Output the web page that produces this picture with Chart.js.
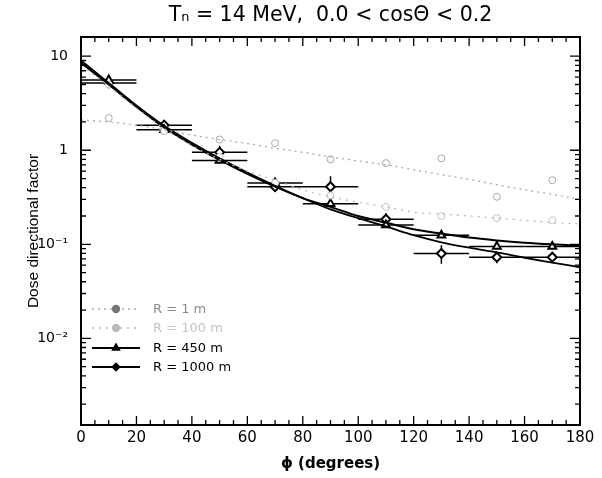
<!DOCTYPE html>
<html>
<head>
<meta charset="utf-8">
<script src="https://cdn.jsdelivr.net/npm/chart.js@4.4.1/dist/chart.umd.min.js"></script>
<style>
  html, body { margin: 0; padding: 0; background: #fff; }
  #wrap { width: 602px; height: 478px; }
</style>
</head>
<body>
<div id="wrap"><canvas id="doseChart"></canvas></div>
<script>
// angles for the fitted curves (degrees)
const phiFit = [0, 10, 20, 30, 40, 50, 60, 70, 80, 90, 100, 110, 120, 130, 140, 150, 160, 170, 180];
const fit450 = [8.5, 5.0, 2.9, 1.75, 1.15, 0.79, 0.56, 0.41, 0.31, 0.25, 0.2, 0.17, 0.145, 0.13, 0.118, 0.11, 0.104, 0.1, 0.097];
const fit1000 = [9.0, 5.2, 3.0, 1.82, 1.2, 0.82, 0.58, 0.42, 0.31, 0.235, 0.19, 0.155, 0.125, 0.105, 0.092, 0.082, 0.072, 0.064, 0.057];
const fitR1 = [2.1, 2.0, 1.85, 1.65, 1.45, 1.3, 1.18, 1.05, 0.95, 0.85, 0.77, 0.7, 0.62, 0.55, 0.49, 0.43, 0.38, 0.34, 0.3];
const fitR100 = [8.0, 4.8, 2.8, 1.7, 1.12, 0.8, 0.6, 0.48, 0.38, 0.32, 0.28, 0.25, 0.22, 0.21, 0.2, 0.19, 0.18, 0.17, 0.165];

// measured points (bin centres, bins are 20 degrees wide)
const phiBins = [10, 30, 50, 70, 90, 110, 130, 150, 170];
const binHalf = 10;
const pts450 = [5.6, 1.65, 0.78, 0.45, 0.27, 0.16, 0.125, 0.095, 0.095];
const err450 = [0.4, 0.1, 0.05, 0.03, 0.02, 0.01, 0.008, 0.006, 0.006];
const pts1000 = [5.2, 1.85, 0.95, 0.41, 0.41, 0.185, 0.08, 0.073, 0.073];
const err1000 = [0.4, 0.15, 0.17, 0.05, 0.12, 0.03, 0.018, 0.01, 0.01];
const ptsR1 = [2.2, 1.6, 1.3, 1.19, 0.8, 0.73, 0.82, 0.32, 0.48];
const ptsR100 = [5.0, 1.7, 0.85, 0.45, 0.33, 0.25, 0.2, 0.19, 0.18];

// axis ticks
const xTicks = [0, 5, 10, 15, 20, 25, 30, 35, 40, 45, 50, 55, 60, 65, 70, 75, 80, 85, 90, 95, 100, 105, 110, 115, 120, 125, 130, 135, 140, 145, 150, 155, 160, 165, 170, 175, 180];
const xMajor = [0, 20, 40, 60, 80, 100, 120, 140, 160, 180];
const yTicks = [0.002, 0.003, 0.004, 0.005, 0.006, 0.007, 0.008, 0.009, 0.01, 0.02, 0.03, 0.04, 0.05, 0.06, 0.07, 0.08, 0.09, 0.1, 0.2, 0.3, 0.4, 0.5, 0.6, 0.7, 0.8, 0.9, 1, 2, 3, 4, 5, 6, 7, 8, 9, 10];
const yMajor = [0.01, 0.1, 1, 10];
const yLabels = ["10\u207B\u00B2", "10\u207B\u00B9", "1", "10"];

const legendLabels = ["R = 1 m", "R = 100 m", "R = 450 m", "R = 1000 m"];

const wideFont = "'DejaVu Sans', Verdana, sans-serif";
const narrowFont = "'Liberation Sans', Arial, sans-serif";

function pairs(xs, ys) {
  return xs.map((v, i) => ({ x: v, y: ys[i] }));
}

// error bars drawn through the chart scales
const errorBars = {
  id: "errorBars",
  beforeDatasetsDraw(chart) {
    const { ctx, scales: { x, y } } = chart;
    ctx.save();
    chart.data.datasets.forEach((ds) => {
      if (!ds.errY) return;
      ctx.strokeStyle = ds.borderColor;
      ctx.lineWidth = ds.errWidth || 1.5;
      ds.data.forEach((p, j) => {
        const px = x.getPixelForValue(p.x);
        const py = y.getPixelForValue(p.y);
        const xl = x.getPixelForValue(p.x - binHalf);
        const xr = x.getPixelForValue(p.x + binHalf);
        const yt = y.getPixelForValue(p.y + ds.errY[j]);
        const yb = y.getPixelForValue(p.y - ds.errY[j]);
        ctx.beginPath();
        ctx.moveTo(xl, py); ctx.lineTo(xr, py);
        ctx.moveTo(px, yt); ctx.lineTo(px, yb);
        ctx.stroke();
      });
    });
    ctx.restore();
  },
};

// inward tick marks on all four sides + frame
const frameTicks = {
  id: "frameTicks",
  afterDraw(chart) {
    const { ctx, chartArea: a, scales: { x, y } } = chart;
    ctx.save();
    ctx.strokeStyle = "#000";
    ctx.lineWidth = 1.3;
    ctx.beginPath();
    xTicks.forEach((v) => {
      const px = x.getPixelForValue(v);
      const len = xMajor.includes(v) ? 9 : 5;
      ctx.moveTo(px, a.bottom); ctx.lineTo(px, a.bottom - len);
      ctx.moveTo(px, a.top); ctx.lineTo(px, a.top + len);
    });
    yTicks.forEach((v) => {
      const py = y.getPixelForValue(v);
      const len = yMajor.includes(v) ? 10 : 5;
      ctx.moveTo(a.left, py); ctx.lineTo(a.left + len, py);
      ctx.moveTo(a.right, py); ctx.lineTo(a.right - len, py);
    });
    ctx.stroke();
    ctx.lineWidth = 2;
    ctx.strokeRect(a.left, a.top, a.right - a.left, a.bottom - a.top);
    ctx.restore();
  },
};

// legend in the lower left of the plot
const insideLegend = {
  id: "insideLegend",
  afterDraw(chart) {
    const { ctx } = chart;
    const rows = [
      { ds: chart.data.datasets[4], line: chart.data.datasets[0], text: "#8a8a8a", mark: "#777" },
      { ds: chart.data.datasets[5], line: chart.data.datasets[1], text: "#c4c4c4", mark: "#bbb" },
      { ds: chart.data.datasets[6], line: chart.data.datasets[2], text: "#000", mark: "#000" },
      { ds: chart.data.datasets[7], line: chart.data.datasets[3], text: "#000", mark: "#000" },
    ];
    const x0 = 92, x1 = 140, tx = 153;
    const rowY = [309, 328, 348, 367];
    ctx.save();
    rows.forEach((r, i) => {
      const yy = rowY[i];
      ctx.strokeStyle = r.line.borderColor;
      ctx.lineWidth = r.line.borderWidth;
      ctx.setLineDash(r.line.borderDash || []);
      ctx.beginPath();
      ctx.moveTo(x0, yy); ctx.lineTo(x1, yy);
      ctx.stroke();
      ctx.setLineDash([]);
      ctx.fillStyle = r.mark;
      ctx.strokeStyle = r.mark;
      Chart.helpers.drawPoint(ctx, {
        pointStyle: r.ds.pointStyle,
        radius: 3.5,
        borderWidth: 1,
      }, (x0 + x1) / 2, yy);
      ctx.fillStyle = r.text;
      ctx.font = "13px " + wideFont;
      ctx.textBaseline = "middle";
      ctx.fillText(legendLabels[i], tx, yy + 1);
    });
    ctx.restore();
  },
};

const ctxDose = document.getElementById("doseChart").getContext("2d");
const doseChart = new Chart(ctxDose, {
  type: "scatter",
  data: {
    datasets: [
      {
        label: legendLabels[0] + " fit",
        data: pairs(phiFit, fitR1),
        showLine: true,
        borderColor: "#ababab",
        borderWidth: 1.3,
        borderDash: [2, 4],
        pointRadius: 0,
        cubicInterpolationMode: "monotone",
      },
      {
        label: legendLabels[1] + " fit",
        data: pairs(phiFit, fitR100),
        showLine: true,
        borderColor: "#bbbbbb",
        borderWidth: 1.3,
        borderDash: [2, 5],
        pointRadius: 0,
        cubicInterpolationMode: "monotone",
      },
      {
        label: legendLabels[2] + " fit",
        data: pairs(phiFit, fit450),
        showLine: true,
        borderColor: "#000",
        borderWidth: 2,
        pointRadius: 0,
        cubicInterpolationMode: "monotone",
      },
      {
        label: legendLabels[3] + " fit",
        data: pairs(phiFit, fit1000),
        showLine: true,
        borderColor: "#000",
        borderWidth: 1.8,
        pointRadius: 0,
        cubicInterpolationMode: "monotone",
      },
      {
        label: legendLabels[0],
        data: pairs(phiBins, ptsR1),
        borderColor: "#a8a8a8",
        backgroundColor: "#fff",
        pointStyle: "circle",
        pointRadius: 3.5,
        borderWidth: 1,
      },
      {
        label: legendLabels[1],
        data: pairs(phiBins, ptsR100),
        borderColor: "#c4c4c4",
        backgroundColor: "#fff",
        pointStyle: "circle",
        pointRadius: 3.5,
        borderWidth: 1,
      },
      {
        label: legendLabels[2],
        data: pairs(phiBins, pts450),
        errY: err450,
        errWidth: 1.5,
        borderColor: "#000",
        backgroundColor: "#fff",
        pointStyle: "triangle",
        pointRadius: 4.5,
        borderWidth: 2,
      },
      {
        label: legendLabels[3],
        data: pairs(phiBins, pts1000),
        errY: err1000,
        errWidth: 1.5,
        borderColor: "#000",
        backgroundColor: "#fff",
        pointStyle: "rectRot",
        pointRadius: 4.5,
        borderWidth: 2,
      },
    ],
  },
  options: {
    responsive: true,
    maintainAspectRatio: false,
    animation: false,
    layout: { padding: { left: 0, right: 22, top: 0, bottom: 0 } },
    plugins: {
      legend: { display: false },
      tooltip: { enabled: false },
      title: {
        display: true,
        fullSize: false,
        text: "T\u2099 = 14 MeV,  0.0 < cos\u0398 < 0.2",
        color: "#000",
        font: { family: wideFont, size: 20.5, weight: "normal" },
        padding: { top: 3, bottom: 9.4 },
      },
    },
    scales: {
      x: {
        type: "linear",
        min: 0,
        max: 180,
        afterFit: (s) => { s.height = 53; },
        afterBuildTicks: (s) => { s.ticks = xTicks.map((v) => ({ value: v })); },
        grid: { drawOnChartArea: false, drawTicks: false },
        border: { display: false },
        ticks: {
          autoSkip: false,
          maxRotation: 0,
          padding: 4,
          color: "#000",
          font: { family: wideFont, size: 15 },
          callback: (v) => (xMajor.includes(v) ? String(v) : ""),
        },
        title: {
          display: true,
          text: "\u03D5 (degrees)",
          color: "#000",
          font: { family: wideFont, size: 15, weight: "bold" },
          padding: { top: 0, bottom: 5 },
        },
      },
      y: {
        type: "logarithmic",
        min: 0.0012,
        max: 16,
        afterFit: (s) => { s.width = 81; },
        afterBuildTicks: (s) => { s.ticks = yTicks.map((v) => ({ value: v })); },
        grid: { drawOnChartArea: false, drawTicks: false },
        border: { display: false },
        ticks: {
          autoSkip: false,
          padding: 13,
          color: "#000",
          font: { family: wideFont, size: 14 },
          callback: (v) => {
            const k = yMajor.indexOf(v);
            return k >= 0 ? yLabels[k] : "";
          },
        },
        title: {
          display: true,
          text: "Dose directional factor",
          color: "#000",
          font: { family: narrowFont, size: 15.5 },
          padding: { top: 24, bottom: 0 },
        },
      },
    },
  },
  plugins: [errorBars, frameTicks, insideLegend],
});
</script>
</body>
</html>
